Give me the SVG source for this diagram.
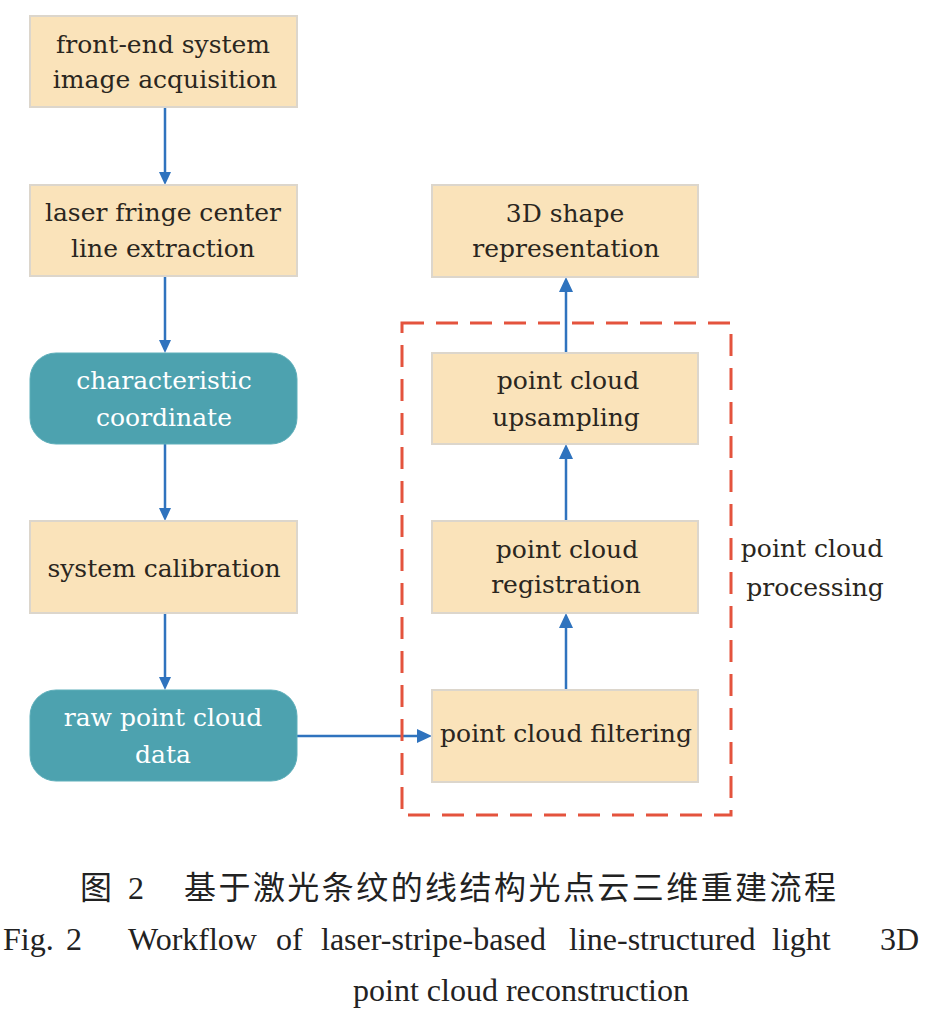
<svg xmlns="http://www.w3.org/2000/svg" width="935" height="1015" viewBox="0 0 935 1015">
<defs>
<style>
.box{fill:#FAE3BA;stroke:#DCD6CC;stroke-width:2}
.teal{fill:#4DA2AF;stroke:#5FAFBA;stroke-width:1}
.t{font-family:"DejaVu Serif","Liberation Serif",serif;font-size:25px;fill:#2a2620;text-anchor:middle}
.tw{font-family:"DejaVu Serif","Liberation Serif",serif;font-size:25px;fill:#ffffff;text-anchor:middle}
.cap{font-family:"Liberation Serif",serif;font-size:32px;fill:#222}
.capc{font-family:"Liberation Serif","Noto Sans CJK SC",serif;font-size:32px;fill:#222}
</style>
</defs>
<rect width="935" height="1015" fill="#ffffff"/>
<g id="connectors">
<line x1="165" y1="107" x2="165" y2="174" stroke="#2F73BE" stroke-width="2.5"/>
<path d="M159,172 L171,172 L165,185 z" fill="#2F73BE"/>
<line x1="165" y1="276" x2="165" y2="342" stroke="#2F73BE" stroke-width="2.5"/>
<path d="M159,340 L171,340 L165,353 z" fill="#2F73BE"/>
<line x1="165" y1="444" x2="165" y2="510" stroke="#2F73BE" stroke-width="2.5"/>
<path d="M159,508 L171,508 L165,521 z" fill="#2F73BE"/>
<line x1="165" y1="613" x2="165" y2="679" stroke="#2F73BE" stroke-width="2.5"/>
<path d="M159,677 L171,677 L165,690 z" fill="#2F73BE"/>
<line x1="297" y1="736" x2="420" y2="736" stroke="#2F73BE" stroke-width="2.5"/>
<path d="M417,729 L432,736 L417,743 z" fill="#2F73BE"/>
<line x1="566" y1="690" x2="566" y2="625" stroke="#2F73BE" stroke-width="2.5"/>
<path d="M559,628 L573,628 L566,613 z" fill="#2F73BE"/>
<line x1="566" y1="521" x2="566" y2="456" stroke="#2F73BE" stroke-width="2.5"/>
<path d="M559,459 L573,459 L566,444 z" fill="#2F73BE"/>
<line x1="566" y1="353" x2="566" y2="289" stroke="#2F73BE" stroke-width="2.5"/>
<path d="M559,292 L573,292 L566,277 z" fill="#2F73BE"/>
</g>
<g id="group-processing">
<rect x="402" y="323" width="329" height="492" fill="none" stroke="#E4533D" stroke-width="3" stroke-dasharray="22 12"/>
<text class="t" x="812" y="557">point cloud</text>
<text class="t" x="815" y="596">processing</text>
</g>
<g id="n1"><rect class="box" x="30" y="16" width="267" height="91"/>
<text class="t" x="163" y="53">front-end system</text><text class="t" x="165" y="88">image acquisition</text></g>
<g id="n2"><rect class="box" x="30" y="185" width="267" height="91"/>
<text class="t" x="163" y="221">laser fringe center</text><text class="t" x="163" y="257">line extraction</text></g>
<g id="n3"><rect class="teal" x="30" y="353" width="267" height="91" rx="26"/>
<text class="tw" x="164" y="389">characteristic</text><text class="tw" x="164" y="426">coordinate</text></g>
<g id="n4"><rect class="box" x="30" y="521" width="267" height="92"/>
<text class="t" x="164" y="577">system calibration</text></g>
<g id="n5"><rect class="teal" x="30" y="690" width="267" height="91" rx="26"/>
<text class="tw" x="163" y="726">raw point cloud</text><text class="tw" x="163" y="763">data</text></g>
<g id="n6"><rect class="box" x="432" y="185" width="266" height="92"/>
<text class="t" x="565" y="222">3D shape</text><text class="t" x="566" y="257">representation</text></g>
<g id="n7"><rect class="box" x="432" y="353" width="266" height="91"/>
<text class="t" x="568" y="389">point cloud</text><text class="t" x="566" y="426">upsampling</text></g>
<g id="n8"><rect class="box" x="432" y="521" width="266" height="92"/>
<text class="t" x="567" y="558">point cloud</text><text class="t" x="566" y="593">registration</text></g>
<g id="n9"><rect class="box" x="432" y="690" width="266" height="92"/>
<text class="t" x="566" y="742">point cloud filtering</text></g>
<g id="caption">
<text class="capc" y="899"><tspan x="80">图</tspan><tspan x="128">2</tspan><tspan x="184" textLength="652" lengthAdjust="spacing">基于激光条纹的线结构光点云三维重建流程</tspan></text>
<text class="cap" y="950"><tspan x="3">Fig.</tspan><tspan x="66">2</tspan><tspan x="128">Workflow</tspan><tspan x="276">of</tspan><tspan x="321">laser-stripe-based</tspan><tspan x="569">line-structured</tspan><tspan x="772">light</tspan><tspan x="880">3D</tspan></text>
<text class="cap" x="521" y="1001" text-anchor="middle">point cloud reconstruction</text>
</g>
</svg>
